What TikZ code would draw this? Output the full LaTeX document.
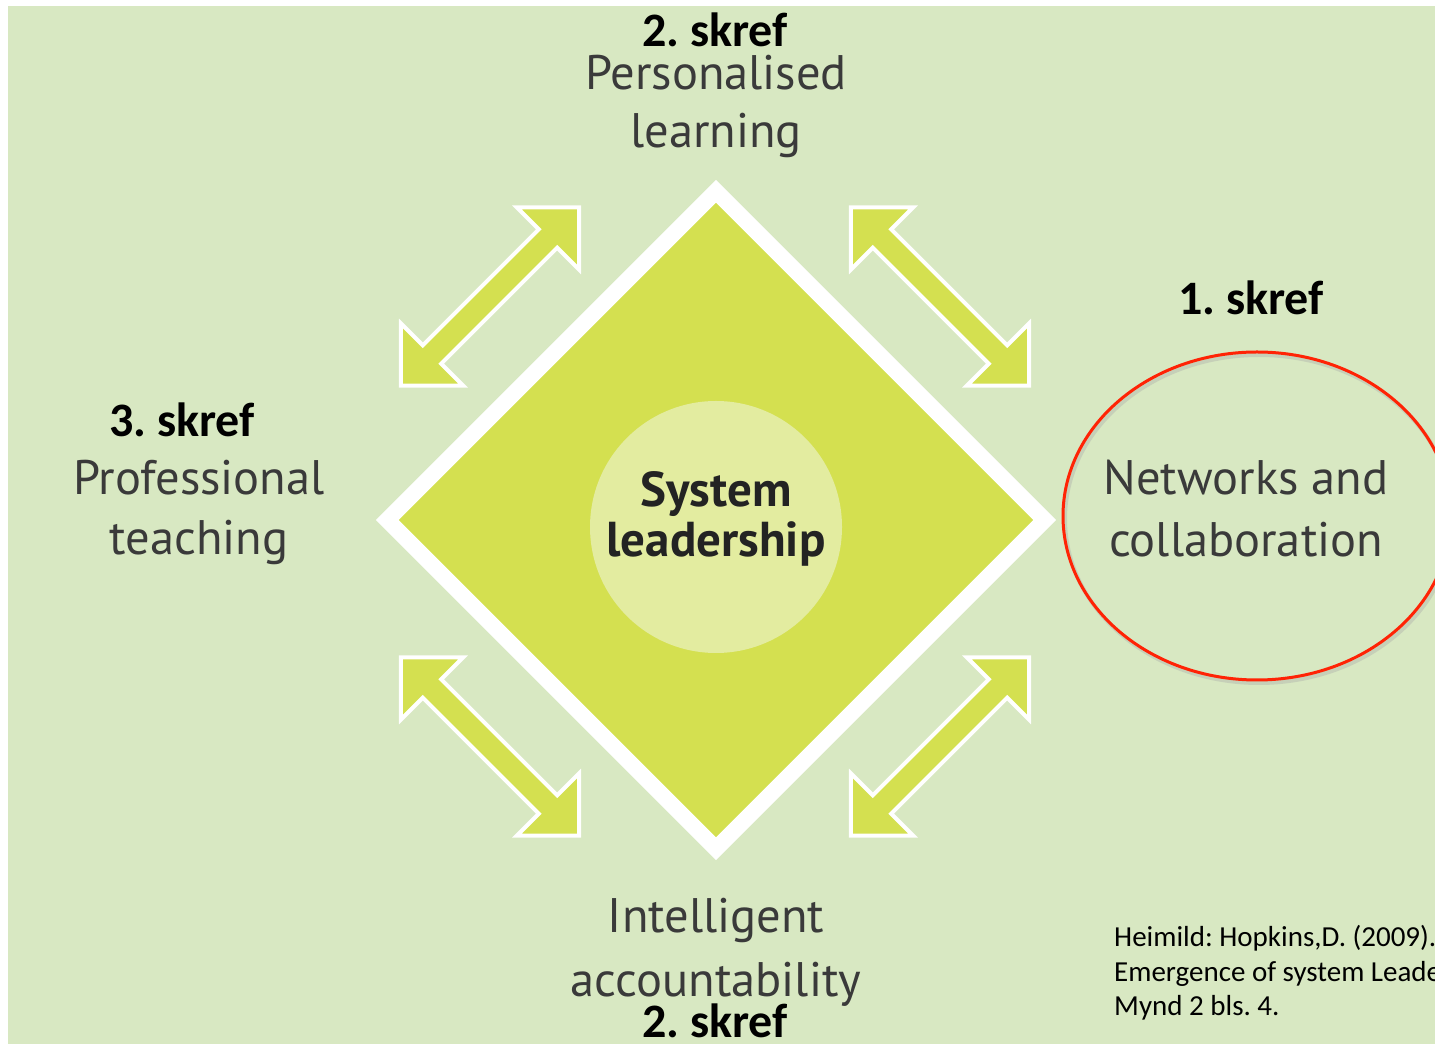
\documentclass[tikz,border=0pt]{standalone}
\usepackage{fontspec}
\setmainfont{PT Sans}
\newfontfamily\carlitofont{Carlito}
\frenchspacing
\definecolor{bgg}{RGB}{216,232,194}
\definecolor{lime}{RGB}{212,224,80}
\definecolor{pale}{RGB}{227,236,160}
\definecolor{txt}{RGB}{58,58,58}
\definecolor{dtxt}{RGB}{35,35,35}
\definecolor{redl}{RGB}{255,35,5}
\tikzset{
  lbl/.style={anchor=base, inner sep=0pt, text=txt, font=\fontsize{48.5}{58}\selectfont},
  ctr/.style={anchor=base, inner sep=0pt, text=dtxt, font=\fontsize{49}{58}\selectfont\bfseries},
  skref/.style={anchor=base, inner sep=0pt, text=black, font=\carlitofont\fontsize{48}{58}\selectfont\bfseries},
  cite/.style={anchor=base west, inner sep=0pt, text=black, font=\carlitofont\fontsize{29}{35}\selectfont},
  arrowshape/.style={fill=lime, draw=white, line width=4pt, line join=miter},
  dbl/.pic={
    \path[arrowshape] (126,0) -- (82,44) -- (82,13) -- (-82,13) -- (-82,44) -- (-126,0)
      -- (-82,-44) -- (-82,-13) -- (82,-13) -- (82,-44) -- cycle;
  }
}
\begin{document}
\begin{tikzpicture}[x=1pt,y=1pt]
\useasboundingbox (0,0) rectangle (1435,1044);
\fill[bgg] (8,0) rectangle (1435,1038);
% diamond
\path[fill=lime, draw=white, line width=16pt, line join=miter]
  (716,195.3) -- (1044.7,524) -- (716,852.7) -- (387.3,524) -- cycle;
\coordinate (c) at (716,524);
\node[circle, fill=pale, minimum size=252pt, inner sep=0pt] (hub) at (716,517) {};
% arrows
\pic[rotate=45] (a1) at (490,747.5) {dbl};
\pic[rotate=-45] (a2) at (940,747.5) {dbl};
\pic[rotate=-45] (a3) at (490,297.5) {dbl};
\pic[rotate=45] (a4) at (940,297.5) {dbl};
% red ellipse with faint shadow
\draw[black!35, opacity=0.35, line width=4pt] (1259,525) ellipse [x radius=194, y radius=164];
\draw[redl, line width=3pt] (1257,528) ellipse [x radius=194, y radius=164];
% labels
\node[skref] (s2t) at (715,997) {2. skref};
\node[lbl] (p1) at (716,954) {Personalised};
\node[lbl] (p2) at (716,896) {learning};
\node[skref] (s1) at (1251,729) {1. skref};
\node[skref] (s3) at (182,607) {3. skref};
\node[lbl] (t1) at (199,549) {Professional};
\node[lbl] (t2) at (199,489) {teaching};
\node[ctr] (sys1) at (716,537) {System};
\node[ctr] (sys2) at (716,487) {leadership};
\node[lbl] (n1) at (1246,549) {Networks and};
\node[lbl] (n2) at (1246,487) {collaboration};
\node[lbl] (i1) at (716,111) {Intelligent};
\node[lbl] (i2) at (716,47) {accountability};
\node[skref] (s2b) at (715,6) {2. skref};
\node[cite] (r1) at (1114,97) {Heimild: Hopkins,D. (2009).};
\node[cite] (r2) at (1114,62) {Emergence of system Leadership};
\node[cite] (r3) at (1114,28) {Mynd 2 bls. 4.};
\end{tikzpicture}
\end{document}
